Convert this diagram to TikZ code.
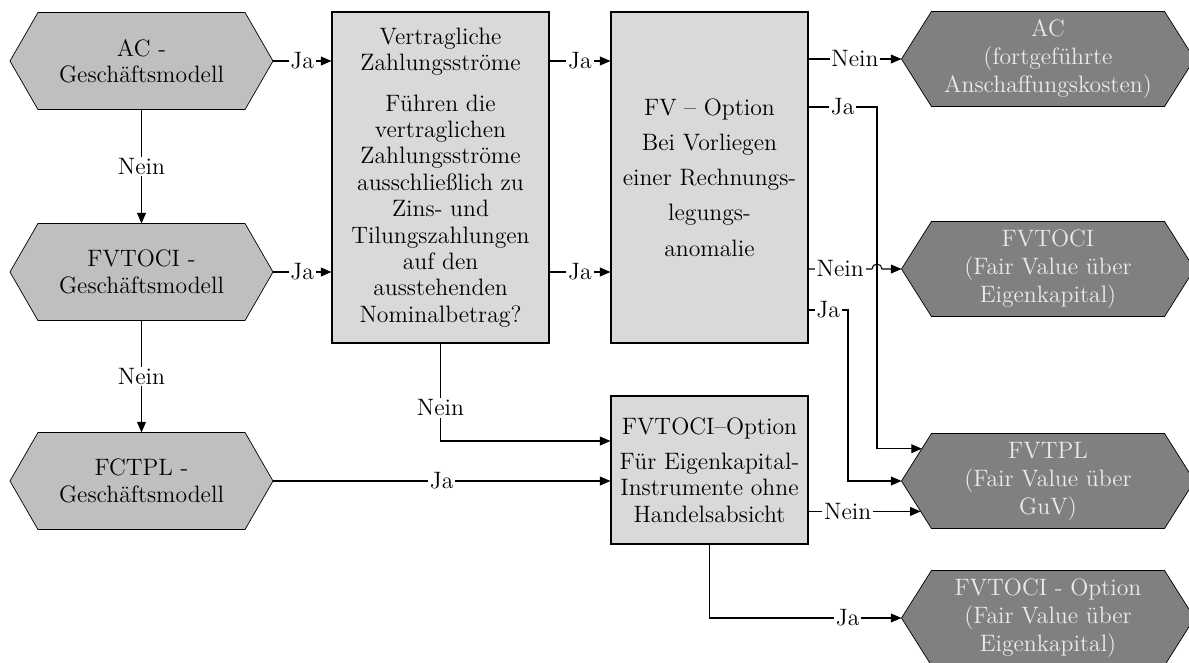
\documentclass[tikz,border=0pt]{standalone}
\usepackage{fontspec}
\usetikzlibrary{arrows.meta,backgrounds,calc}
\definecolor{Pale}{gray}{.85}
\definecolor{Mid}{gray}{.75}
\definecolor{Dark}{gray}{.5}

\begin{document}
\begin{tikzpicture}[
  font=\fontsize{13.5}{15}\selectfont,
  >={Triangle[length=6pt,width=5pt]},
  line width=.6pt,
  model/.style = {rectangle,align=center,inner sep=0pt,
    minimum width=5.24cm,minimum height=1.92cm},
  result/.style = {rectangle,align=center,inner sep=0pt,text=white!92!black,
    minimum width=5.84cm,minimum height=1.88cm},
  query/.style = {rectangle,draw,fill=Pale,align=center,minimum width=#1},
  answer/.style = {fill=white,inner sep=1pt}
  ]
  \useasboundingbox (0,0) rectangle (23.78,-13.24);
  % business models
  \node[model] (ac)  at (2.83,-1.22) {AC -\\Geschäftsmodell};
  \node[model] (oci) at (2.83,-5.44) {FVTOCI -\\Geschäftsmodell};
  \node[model] (tpl) at (2.83,-9.62) {FCTPL -\\Geschäftsmodell};
  % tests
  \node[query=4.34cm,minimum height=6.62cm] (sppi) at (8.81,-3.55)
    {Vertragliche\\Zahlungsströme\\[8pt]Führen die\\vertraglichen\\
     Zahlungsströme\\ausschließlich zu\\Zins- und\\Tilungszahlungen\\
     auf den\\ausstehenden\\Nominalbetrag?};
  \node[query=3.94cm,minimum height=6.62cm] (fvo) at (14.19,-3.55)
    {FV – Option\\[5pt]Bei Vorliegen\\[5pt]einer Rechnungs-\\[5pt]legungs-\\[5pt]anomalie};
  \node[query=3.94cm,minimum height=2.96cm] (eko) at (14.19,-9.40)
    {FVTOCI–Option\\[5pt]Für Eigenkapital-\\Instrumente ohne\\Handelsabsicht};
  % results
  \node[result] (rac)  at (20.96,-1.18)  {AC\\[1pt](fortgeführte\\[1pt]Anschaffungskosten)};
  \node[result] (roci) at (20.96,-5.38)  {FVTOCI\\[1pt](Fair Value über\\[1pt]Eigenkapital)};
  \node[result] (rtpl) at (20.96,-9.62)  {FVTPL\\[1pt](Fair Value über\\[1pt]GuV)};
  \node[result] (ropt) at (20.96,-12.36) {FVTOCI - Option\\[1pt](Fair Value über\\[1pt]Eigenkapital)};
  % hexagon outlines
  \begin{scope}[on background layer]
    \foreach \n/\c/\s in {ac/Mid/.56cm,oci/Mid/.56cm,tpl/Mid/.56cm,
        rac/Dark/.6cm,roci/Dark/.6cm,rtpl/Dark/.6cm,ropt/Dark/.6cm}
      \draw[fill=\c] (\n.west) -- ([xshift=\s]\n.north west)
        -- ([xshift=-\s]\n.north east) -- (\n.east)
        -- ([xshift=-\s]\n.south east) -- ([xshift=\s]\n.south west) -- cycle;
  \end{scope}
  %
  \coordinate (jaA) at (17.54,-2.14);
  \coordinate (jaB) at (16.96,-6.20);
  \coordinate (tplA) at ($(rtpl.west)!.68!([xshift=.6cm]rtpl.north west)$);
  \coordinate (tplB) at ($(rtpl.west)!.64!([xshift=.6cm]rtpl.south west)$);
  %
  \draw[->] (ac) -- node[answer] {Nein} (oci);
  \draw[->] (oci) -- node[answer] {Nein} (tpl);
  \draw[->] (ac.east) -- node[answer] {Ja} (ac.east -| sppi.west);
  \draw[->] (oci.east) -- node[answer] {Ja} (oci.east -| sppi.west);
  \draw[->] (tpl.east) -- node[answer] {Ja} (tpl.east -| eko.west);
  \draw[->] (sppi.east |- ac.east) -- node[answer] {Ja} (fvo.west |- ac.east);
  \draw[->] (sppi.east |- oci.east) -- node[answer] {Ja} (fvo.west |- oci.east);
  \draw[->] (sppi.south) |- node[answer,pos=.33] {Nein} ([yshift=.58cm]eko.west);
  \draw[->] (fvo.east |- rac.west) -- node[answer] {Nein} (rac.west);
  \draw[->] (fvo.east |- jaA) -- node[answer] {Ja} (jaA) |- (tplA);
  \draw[->] (fvo.east |- roci.west) -- node[answer] {Nein}
    ([xshift=-.1cm]jaA |- roci.west) arc[start angle=180,end angle=0,radius=.1cm]
    -- (roci.west);
  \draw[->] (fvo.east |- jaB) -- node[answer] {Ja} (jaB) |- (rtpl.west);
  \draw[->] (eko.east |- tplB) -- node[answer,pos=.35] {Nein} (tplB);
  \draw[->] (eko.south) |- node[answer,pos=.86] {Ja} (ropt.west);
\end{tikzpicture}
\end{document}
